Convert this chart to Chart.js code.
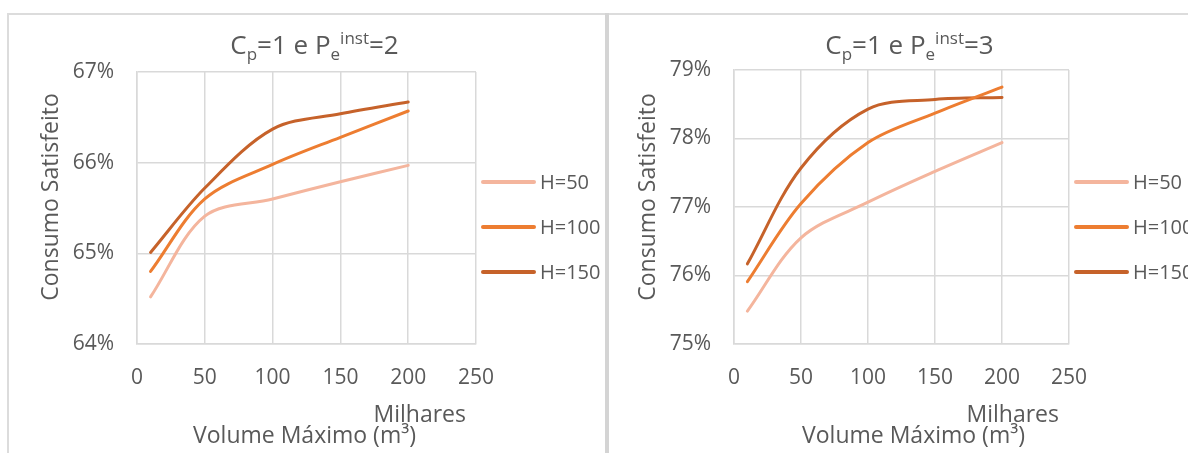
<!DOCTYPE html>
<html>
<head>
<meta charset="utf-8">
<script src="https://cdn.jsdelivr.net/npm/chart.js@4.4.1/dist/chart.umd.min.js"></script>
<style>
  body { margin: 0; background: #fff; }
  #page { position: relative; width: 1188px; height: 453px; overflow: hidden; background: #fff; }
  .rule { position: absolute; background: #dcdcdc; }
  canvas { position: absolute; top: 0; }
</style>
</head>
<body>
<div id="page">
  <div class="rule" style="left:7px; top:13px; width:1181px; height:2px;"></div>
  <div class="rule" style="left:7px; top:13px; width:2px; height:440px;"></div>
  <div class="rule" style="left:605px; top:13px; width:4px; height:440px; background:#d4d4d4;"></div>
  <canvas id="chart-pe2" width="605" height="453" style="left:0;"></canvas>
  <canvas id="chart-pe3" width="579" height="453" style="left:609px;"></canvas>
</div>
<script>
  // data (x in thousands of m3, y in %)
  const volume = [10, 50, 100, 150, 200];
  const seriesLabels = ["H=50", "H=100", "H=150"];

  const pe2H50 = [64.52, 65.41, 65.60, 65.79, 65.97];
  const pe2H100 = [64.80, 65.60, 65.98, 66.28, 66.57];
  const pe2H150 = [65.01, 65.72, 66.37, 66.54, 66.67];

  const pe3H50 = [75.48, 76.55, 77.07, 77.52, 77.94];
  const pe3H100 = [75.91, 77.05, 77.94, 78.37, 78.75];
  const pe3H150 = [76.17, 77.57, 78.43, 78.57, 78.60];

  const xTicks = [0, 50, 100, 150, 200, 250];
  const yTicksPe2 = [64, 65, 66, 67];
  const yTicksPe3 = [75, 76, 77, 78, 79];

  const textGrey = "#595959";
  const gridGrey = "#d9d9d9";
  const seriesColors = ["#f4b59d", "#ed7d31", "#c6622a"];
  const fontFamily = "'Open Sans', sans-serif";

  Chart.defaults.font.family = fontFamily;

  // draws text with sub/superscript parts, centered on cx
  function richText(ctx, parts, cx, baseline, size) {
    const small = Math.round(size * 0.64);
    const fontFor = (p) => (p[1] ? small : size) + "px " + fontFamily;
    let total = 0;
    parts.forEach(p => { ctx.font = fontFor(p); total += ctx.measureText(p[0]).width; });
    let x = cx - total / 2;
    parts.forEach(p => {
      ctx.font = fontFor(p);
      let dy = 0;
      if (p[1] === "sub") dy = size * 0.24;
      if (p[1] === "sup") dy = -size * 0.40;
      ctx.fillText(p[0], x, baseline + dy);
      x += ctx.measureText(p[0]).width;
    });
  }

  // title, axis titles, "Milhares" and the legend, placed the way Excel does
  const excelText = {
    id: "excelText",
    afterDraw(chart, args, opts) {
      const ctx = chart.ctx;
      const a = chart.chartArea;
      const mid = (a.left + a.right) / 2;
      ctx.save();
      ctx.fillStyle = textGrey;
      ctx.textAlign = "left";
      ctx.textBaseline = "alphabetic";

      richText(ctx, opts.title, mid + 8, 54, 26);

      ctx.font = "23px " + fontFamily;
      ctx.textAlign = "right";
      ctx.fillText("Milhares", a.right - 10, 422);

      ctx.textAlign = "center";
      ctx.fillText("Volume Máximo (m³)", mid + opts.xTitleShift, 443);

      ctx.save();
      ctx.translate(a.left - 79, 197);
      ctx.rotate(-Math.PI / 2);
      ctx.fillText("Consumo Satisfeito", 0, 0);
      ctx.restore();

      // legend
      ctx.textAlign = "left";
      ctx.textBaseline = "middle";
      ctx.font = "20px " + fontFamily;
      ctx.lineCap = "round";
      chart.data.datasets.forEach((ds, i) => {
        const y = 182 + i * 45;
        ctx.strokeStyle = ds.borderColor;
        ctx.lineWidth = 4;
        ctx.beginPath();
        ctx.moveTo(a.right + 7, y);
        ctx.lineTo(a.right + 58, y);
        ctx.stroke();
        ctx.fillText(ds.label, a.right + 64, y + 1);
      });
      ctx.restore();
    }
  };

  function makeChart(id, series, yTicks, title, pad, yWidth, xTitleShift) {
    const datasets = series.map((vals, i) => ({
      label: seriesLabels[i],
      data: vals.map((v, j) => ({ x: volume[j], y: v })),
      borderColor: seriesColors[i],
      backgroundColor: seriesColors[i],
      borderWidth: 3,
      borderCapStyle: "round",
      pointRadius: 0,
      tension: 0.33,
      fill: false,
    }));

    return new Chart(document.getElementById(id), {
      type: "line",
      data: { datasets: datasets },
      options: {
        responsive: false,
        animation: false,
        devicePixelRatio: 1,
        layout: { padding: pad },
        scales: {
          x: {
            type: "linear",
            min: xTicks[0],
            max: xTicks[xTicks.length - 1],
            ticks: { stepSize: 50, color: textGrey, font: { size: 21 }, padding: 21 },
            grid: { color: gridGrey, lineWidth: 1.5, drawTicks: false },
            border: { color: gridGrey, width: 1.5 },
            afterFit: (s) => { s.height = 109; },
          },
          y: {
            min: yTicks[0],
            max: yTicks[yTicks.length - 1],
            ticks: {
              stepSize: 1,
              color: textGrey,
              font: { size: 21 },
              padding: 23,
              callback: (v) => v + "%",
            },
            grid: { color: gridGrey, lineWidth: 1.5, drawTicks: false },
            border: { color: gridGrey, width: 1.5 },
            afterFit: (s) => { s.width = yWidth; },
          },
        },
        plugins: {
          legend: { display: false },
          tooltip: { enabled: false },
          excelText: { title: title, xTitleShift: xTitleShift },
        },
      },
      plugins: [excelText],
    });
  }

  makeChart("chart-pe2", [pe2H50, pe2H100, pe2H150], yTicksPe2,
    [["C"], ["p", "sub"], ["=1 e P"], ["e", "sub"], ["inst", "sup"], ["=2"]],
    { left: 0, top: 72, right: 129, bottom: 0 }, 137, -2);

  makeChart("chart-pe3", [pe3H50, pe3H100, pe3H150], yTicksPe3,
    [["C"], ["p", "sub"], ["=1 e P"], ["e", "sub"], ["inst", "sup"], ["=3"]],
    { left: 0, top: 70, right: 119, bottom: 0 }, 125, 12);
</script>
</body>
</html>
